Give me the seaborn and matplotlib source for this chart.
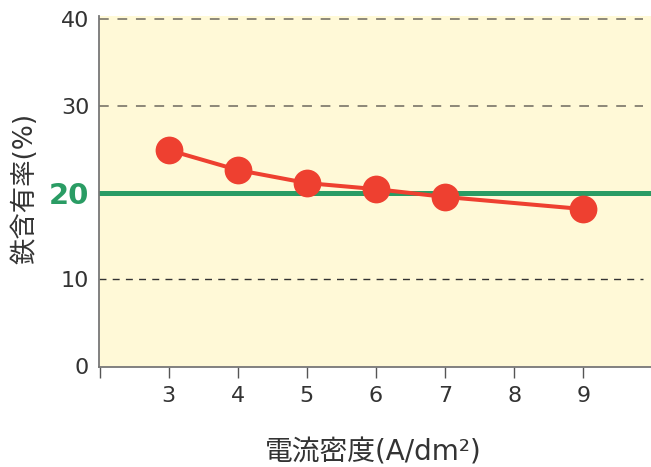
import matplotlib
matplotlib.use("Agg")
import matplotlib.pyplot as plt
import seaborn as sns
import pandas as pd

current_density = [3, 4, 5, 6, 7, 9]
iron_content = [24.9, 22.6, 21.1, 20.4, 19.5, 18.1]
x_ticks = [2, 3, 4, 5, 6, 7, 8, 9]
x_tick_labels = ["", "3", "4", "5", "6", "7", "8", "9"]
y_ticks = [0, 10, 20, 30, 40]
y_tick_labels = ["0", "10", "20", "30", "40"]
threshold = 20

sns.set_style("ticks")
plt.rcParams['font.family'] = ['DejaVu Sans', 'Noto Sans CJK JP']

df = pd.DataFrame({"x": current_density, "y": iron_content})

fig = plt.figure(figsize=(6.51, 4.67), dpi=100)
ax = fig.add_axes([0.152, 0.2141, 0.848, 0.7516])
ax.set_facecolor("#fff9d7")

ax.set_xlim(1.99, 9.98)
ax.set_ylim(-0.1, 40.35)

# grid lines
for yv, col, lw in [(10, "#333333", 1.0), (30, "#8c8778", 1.4), (40, "#8c8778", 1.4)]:
    ax.axhline(yv, xmin=0, xmax=0.985, color=col, lw=lw, dashes=(5, 4.5), zorder=1)
ax.axhline(threshold, color="#2a9c64", lw=3.6, zorder=2)

sns.lineplot(data=df, x="x", y="y", ax=ax, color="#ee4030", lw=2.9,
             marker="o", markersize=20, markeredgewidth=0, zorder=3)

ax.set_xticks(x_ticks)
ax.set_xticklabels(x_tick_labels, fontsize=16, color="#333333")
ax.set_yticks(y_ticks)
ax.set_yticklabels(y_tick_labels, fontsize=16, color="#333333")
for lbl in ax.get_yticklabels():
    if lbl.get_text() == "20":
        lbl.set_color("#2a9c64")
        lbl.set_fontweight("bold")
        lbl.set_fontsize(21)

ax.tick_params(axis="x", direction="out", length=8, width=1, color="#555555", pad=6)
ax.tick_params(axis="y", length=0, pad=7)

for s in ["top", "right"]:
    ax.spines[s].set_visible(False)
for s in ["left", "bottom"]:
    ax.spines[s].set_color("#777777")
    ax.spines[s].set_linewidth(1.3)

ax.set_xlabel("電流密度(A/dm²)", fontsize=20, color="#333333")
ax.set_ylabel("鉄含有率(%)", fontsize=19, color="#333333")
ax.xaxis.set_label_coords(0.496, -0.205)
ax.yaxis.set_label_coords(-0.11, 0.51)

fig.savefig("out.png", dpi=100)
